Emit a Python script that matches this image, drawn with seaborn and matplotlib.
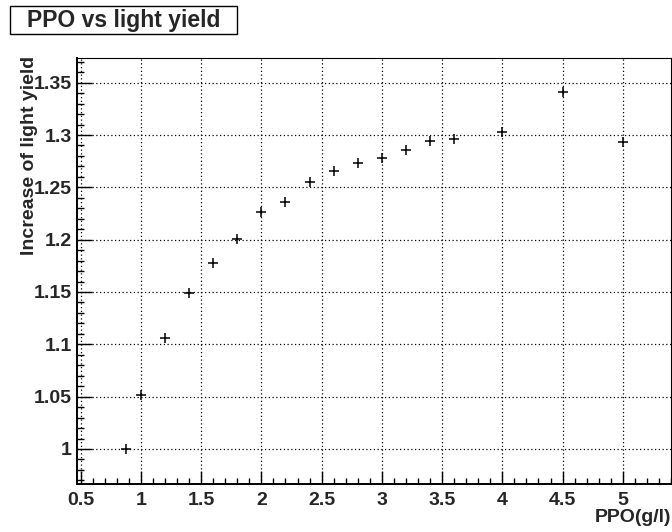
import matplotlib
matplotlib.use("Agg")
import matplotlib.pyplot as plt
from matplotlib.ticker import MultipleLocator, FuncFormatter
from matplotlib.patches import Rectangle
import seaborn as sns
import pandas as pd

# PPO concentration (g/l) and relative light yield
ppo_conc = [0.88, 1.0, 1.2, 1.4, 1.6, 1.8, 2.0, 2.2, 2.4, 2.6, 2.8,
            3.0, 3.2, 3.4, 3.6, 4.0, 4.5, 5.0]
light_yield = [1.000, 1.052, 1.106, 1.149, 1.178, 1.201, 1.226, 1.236,
               1.255, 1.266, 1.273, 1.278, 1.286, 1.294, 1.296, 1.303,
               1.341, 1.293]

title_text = "PPO vs light yield"
x_label = "PPO(g/l)"
y_label = "Increase of light yield"

df = pd.DataFrame({"ppo": ppo_conc, "ly": light_yield})

sns.set_style("white")
plt.rcParams["font.family"] = ["Liberation Sans", "DejaVu Sans"]
plt.rcParams["font.weight"] = "bold"

W, H = 672, 532
fig = plt.figure(figsize=(W / 100, H / 100), dpi=100)
ax = fig.add_axes([76.7 / W, 1 - 483.5 / H, (671 - 76.7) / W, (483.5 - 58) / H])

sns.scatterplot(data=df, x="ppo", y="ly", marker="+", s=45, color="black",
                linewidth=1.1, ax=ax, zorder=5)

ax.set_xlim(0.467, 5.4)
ax.set_ylim(0.967, 1.3736)
ax.xaxis.set_major_locator(MultipleLocator(0.5))
ax.xaxis.set_minor_locator(MultipleLocator(0.1))
ax.yaxis.set_major_locator(MultipleLocator(0.05))
ax.yaxis.set_minor_locator(MultipleLocator(0.01))
fmt = FuncFormatter(lambda v, p: f"{round(v, 3):g}")
ax.xaxis.set_major_formatter(fmt)
ax.yaxis.set_major_formatter(fmt)

ax.grid(True, which="major", color="black", linestyle=(0, (1, 2)), linewidth=0.9)
ax.set_axisbelow(True)

ax.tick_params(which="both", direction="in", top=False, right=False,
               bottom=True, left=True, color="black")
ax.tick_params(axis="x", which="major", length=9.5, width=1.0, pad=6,
               labelsize=14)
ax.tick_params(axis="x", which="minor", length=4.5, width=1.0)
ax.tick_params(axis="y", which="major", length=10.5, width=1.0, pad=3.5,
               labelsize=14)
ax.tick_params(axis="y", which="minor", length=5, width=1.0)
for lab in ax.get_xticklabels() + ax.get_yticklabels():
    lab.set_fontweight("bold")

for side in ("left", "bottom"):
    ax.spines[side].set_linewidth(1.4)
    ax.spines[side].set_color("black")
for side in ("top", "right"):
    ax.spines[side].set_linewidth(0.8)
    ax.spines[side].set_color("black")

ax.set_xlabel("")
ax.set_ylabel("")
fig.text(30 / W, 1 - 56 / H, y_label, rotation=90, ha="center", va="top",
         fontsize=14, fontweight="bold")
fig.text(0.999, 1 - 518 / H, x_label, ha="right", va="center",
         fontsize=14, fontweight="bold")

# title box
fig.patches.append(Rectangle((10 / W, 1 - 34 / H), 227 / W, 28 / H,
                             transform=fig.transFigure, facecolor="white",
                             edgecolor="black", linewidth=1.0))
fig.text(123.5 / W, 1 - 20 / H, title_text, ha="center", va="center",
         fontsize=16.5, fontweight="bold")

fig.savefig("out.png", dpi=100, facecolor="white")
